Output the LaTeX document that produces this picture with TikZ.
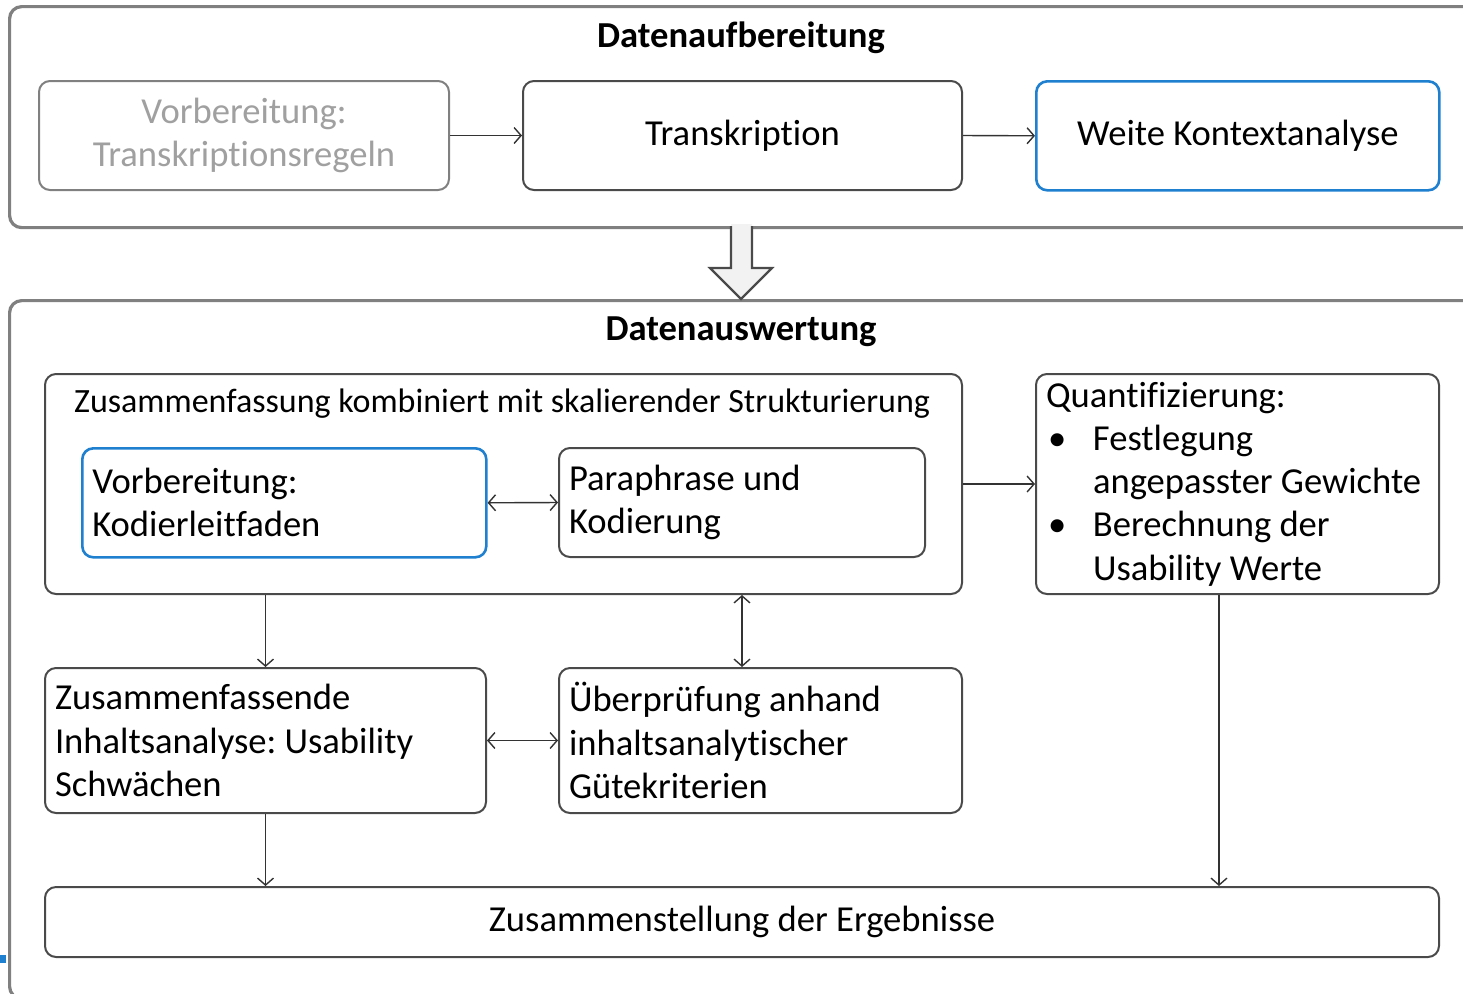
\documentclass[tikz,border=0pt]{standalone}
\usepackage{fontspec}
\setmainfont{Carlito}[Ligatures=NoCommon]
\usetikzlibrary{arrows.meta}
\definecolor{frame}{HTML}{808080}
\definecolor{boxline}{HTML}{4A4A4A}
\definecolor{blueline}{HTML}{1F80D0}
\definecolor{greytext}{HTML}{A0A0A0}
\definecolor{arrowfill}{HTML}{F2F2F2}
\begin{document}
\frenchspacing
\begin{tikzpicture}[x=0.5pt,y=-0.5pt,
  container/.style={draw=frame, line width=1.6pt, rounded corners=6pt, anchor=north west, inner sep=0pt},
  box/.style={draw=boxline, line width=1pt, rounded corners=5.5pt, anchor=north west, inner sep=0pt,
    font=\fontsize{18.3}{21.6}\selectfont},
  bluebox/.style={box, draw=blueline, line width=1.3pt},
  greybox/.style={box, draw=frame},
  ttl/.style={font=\bfseries\fontsize{18.3}{20}\selectfont, inner sep=0pt},
  arr/.style={draw=black!80, line width=0.7pt, -{Straight Barb[length=3.5pt,width=8pt]}},
  darr/.style={draw=black!80, line width=0.7pt, {Straight Barb[length=3.5pt,width=8pt]}-{Straight Barb[length=3.5pt,width=8pt]}},
]
\clip (0,0) rectangle (1463,993);
\fill[white] (0,0) rectangle (1463,993);

% containers
\node[container, minimum width=736pt, minimum height=110.5pt] (top) at (8,5) {};
\node[container, minimum width=736pt, minimum height=349pt] (bot) at (8,299) {};
\node[ttl] (t1) at (741,38) {Datenaufbereitung};
\node[ttl] (t2) at (741,332) {Datenauswertung};

% top row
\node[greybox, minimum width=205pt, minimum height=54.5pt, align=center, text=greytext] (b1) at (38,80)
  {Vorbereitung:\\Transkriptionsregeln};
\node[box, minimum width=219.5pt, minimum height=54.5pt] (b2) at (522,80) {Transkription};
\node[bluebox, minimum width=201.5pt, minimum height=54.5pt] (b3) at (1035,80) {Weite Kontextanalyse};

\draw[arr] (b1.east) -- (b2.west);
\draw[arr] (b2.east) -- (b3.west);

% big arrow
\fill[arrowfill] (731,224) -- (752,224) -- (752,268) -- (772,268) -- (741,299) -- (710,268) -- (731,268) -- cycle;
\draw[draw=boxline, line width=1.1pt, line join=miter] (731,226) -- (731,268) -- (710,268) -- (741,299) -- (772,268) -- (752,268) -- (752,226);

% evaluation part
\node[box, minimum width=458.5pt, minimum height=110pt] (z) at (44,373) {};
\node[inner sep=0pt, font=\fontsize{17}{20}\selectfont] (zt) at (502,404)
  {Zusammenfassung kombiniert mit skalierender Strukturierung};
\node[bluebox, minimum width=202pt, minimum height=54.5pt, text width=192pt, inner xsep=5pt, align=flush left] (v) at (81,447)
  {Vorbereitung:\\Kodierleitfaden};
\node[box, minimum width=183pt, minimum height=54.5pt, text width=173pt, inner xsep=5pt, align=flush left] (p) at (558,447)
  {Paraphrase und\\Kodierung};
\draw[darr] (v.east) -- (p.west);

\node[box, minimum width=201.5pt, minimum height=110pt, text width=191.5pt, inner xsep=5pt, align=flush left] (q) at (1035,373)
  {Quantifizierung:\\
   \makebox[23.5pt][l]{\hspace{1pt}\textbullet}Festlegung\\
   \hspace*{23.5pt}angepasster Gewichte\\
   \makebox[23.5pt][l]{\hspace{1pt}\textbullet}Berechnung der\\
   \hspace*{23.5pt}Usability Werte};
\draw[arr] (z.east) -- (q.west);

\node[box, minimum width=220.5pt, minimum height=72.5pt, text width=210.5pt, inner xsep=5pt, align=flush left] (s) at (44,667)
  {Zusammenfassende\\Inhaltsanalyse: Usability\\Schwächen};
\node[box, minimum width=201.5pt, minimum height=72.5pt, text width=191.5pt, inner xsep=5pt, align=flush left] (u) at (558,667)
  {Überprüfung anhand\\inhaltsanalytischer\\Gütekriterien};
\draw[darr] (s.east) -- (u.west);
\draw[arr] (s.north |- z.south) -- (s.north);
\draw[darr] (p.south |- z.south) -- (p.south |- u.north);

\node[box, minimum width=697pt, minimum height=35pt] (e) at (44,886) {Zusammenstellung der Ergebnisse};
\draw[arr] (s.south) -- (s.south |- e.north);
\coordinate (qa) at ([xshift=-9.25pt]q.south);
\draw[arr] (qa) -- (qa |- e.north);

% small blue mark at left edge
\fill[blueline] (0,955) rectangle (6,963);
\end{tikzpicture}
\end{document}
